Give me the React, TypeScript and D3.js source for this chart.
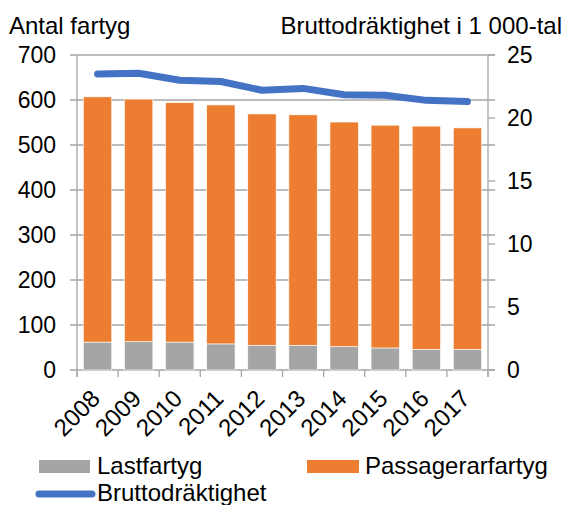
import React from 'react';
import * as d3 from 'd3';

// data
const years = ['2008', '2009', '2010', '2011', '2012', '2013', '2014', '2015', '2016', '2017'];
const lastfartyg = [62, 63, 62, 58, 55, 55, 52, 49, 46, 46];
const totalFartyg = [607, 602, 594, 589, 569, 567, 551, 544, 542, 538];
const passagerarfartyg = totalFartyg.map((t, i) => t - lastfartyg[i]);
const brutto = [23.5, 23.55, 23.0, 22.9, 22.2, 22.35, 21.85, 21.8, 21.4, 21.3];
const leftTicks = [0, 100, 200, 300, 400, 500, 600, 700];
const rightTicks = [0, 5, 10, 15, 20, 25];

const W = 565;
const H = 505;
const plot = {left: 77, right: 488, top: 55, bottom: 370};
const font = '"Liberation Sans", Arial, sans-serif';
const fs = 23;
const fsTitle = 24;

const GRAY = '#A5A5A5';
const ORANGE = '#ED7D31';
const BLUE = '#4472C4';
const AXIS = '#A6A6A6';

const App: React.FC = () => {
    const x = d3.scaleBand<string>()
        .domain(years)
        .range([plot.left, plot.right])
        .paddingInner(0.31)
        .paddingOuter(0.155);
    const yL = d3.scaleLinear().domain([0, 700]).range([plot.bottom, plot.top]);
    const yR = d3.scaleLinear().domain([0, 25]).range([plot.bottom, plot.top]);

    // category boundaries for the bottom ticks
    const step = (plot.right - plot.left) / years.length;
    const bounds = d3.range(years.length + 1).map(i => plot.left + i * step);

    const line = d3.line<number>()
        .x((_, i) => x(years[i])! + x.bandwidth() / 2)
        .y(d => yR(d));

    return (
        <svg width={W} height={H} style={{position: 'absolute', left: 0, top: 0}}
             fontFamily={font}>
            <rect width={W} height={H} fill="#fff"/>

            {/* Gitter + vänster axel */}
            {leftTicks.map(t => (
                <line key={t} x1={70} x2={495} y1={yL(t)} y2={yL(t)} stroke={AXIS} strokeWidth={1.3}/>
            ))}
            <line x1={plot.left} x2={plot.left} y1={plot.top} y2={plot.bottom + 7} stroke={AXIS} strokeWidth={1.3}/>
            <line x1={plot.right} x2={plot.right} y1={plot.top} y2={plot.bottom + 7} stroke={AXIS} strokeWidth={1.3}/>
            {bounds.map((b, i) => (
                <line key={i} x1={b} x2={b} y1={plot.bottom} y2={plot.bottom + 7} stroke={AXIS} strokeWidth={1.3}/>
            ))}
            {rightTicks.map(t => (
                <line key={t} x1={plot.right} x2={495} y1={yR(t)} y2={yR(t)} stroke={AXIS} strokeWidth={1.3}/>
            ))}

            {/* Staplar */}
            {years.map((yr, i) => (
                <g key={yr}>
                    <rect x={x(yr)} width={x.bandwidth()} y={yL(lastfartyg[i])}
                          height={yL(0) - yL(lastfartyg[i])} fill={GRAY} stroke="#fff" strokeWidth={0.6}/>
                    <rect x={x(yr)} width={x.bandwidth()} y={yL(lastfartyg[i] + passagerarfartyg[i])}
                          height={yL(lastfartyg[i]) - yL(lastfartyg[i] + passagerarfartyg[i])}
                          fill={ORANGE} stroke="#fff" strokeWidth={0.6}/>
                </g>
            ))}

            {/* Linje */}
            <path d={line(brutto)!} fill="none" stroke={BLUE} strokeWidth={7}
                  strokeLinecap="round" strokeLinejoin="round"/>

            {/* Axeltexter */}
            {leftTicks.map(t => (
                <text key={t} x={56} y={yL(t)} dy="0.36em" textAnchor="end" fontSize={fs}>{t}</text>
            ))}
            {rightTicks.map(t => (
                <text key={t} x={507} y={yR(t)} dy="0.36em" textAnchor="start" fontSize={fs}>{t}</text>
            ))}
            {years.map(yr => {
                const cx = x(yr)! + x.bandwidth() / 2 + 4;
                const cy = 400;
                return (
                    <text key={yr} x={cx} y={cy} textAnchor="end" fontSize={fsTitle}
                          transform={`rotate(-45, ${cx}, ${cy})`}>{yr}</text>
                );
            })}

            <text x={9} y={34} fontSize={fsTitle}>Antal fartyg</text>
            <text x={562} y={34} fontSize={fsTitle} textAnchor="end">Bruttodräktighet i 1 000-tal</text>

            {/* Legend */}
            <rect x={39} y={460} width={51} height={13} fill={GRAY}/>
            <text x={97} y={474} fontSize={fsTitle}>Lastfartyg</text>
            <rect x={307} y={460} width={52} height={13} fill={ORANGE}/>
            <text x={365} y={474} fontSize={fsTitle}>Passagerarfartyg</text>
            <line x1={39} x2={92} y1={494} y2={494} stroke={BLUE} strokeWidth={7} strokeLinecap="round"/>
            <text x={97} y={501} fontSize={fsTitle}>Bruttodräktighet</text>
        </svg>
    );
};

export default App;
